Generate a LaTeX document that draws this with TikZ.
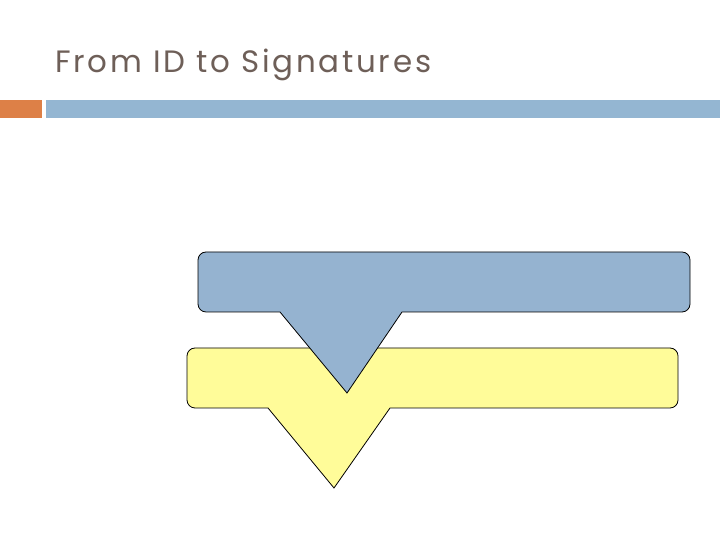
\documentclass[tikz,border=0pt]{standalone}
\usepackage{fontspec}
\setmainfont{Poppins}
\newfontfamily\titlefont[LetterSpace=9]{Poppins}
\definecolor{titlecol}{HTML}{6E5F58}
\definecolor{barorange}{HTML}{DD8047}
\definecolor{barblue}{HTML}{94B6D2}
\definecolor{calloutblue}{HTML}{95B3D0}
\definecolor{calloutyellow}{HTML}{FFFC99}
\tikzset{callout/.style={draw=black,line width=0.8pt,line join=miter}}
\begin{document}
\begin{tikzpicture}[x=1bp,y=1bp]
\useasboundingbox (0,0) rectangle (720,540);
\fill[white] (0,0) rectangle (720,540);
% title
\node[anchor=base west,inner sep=0pt,text=titlecol,font=\titlefont\fontsize{31}{36}\selectfont] (title) at (55,467) {From ID to Signatures};
% bars
\fill[barorange] (0,422) rectangle (42,440);
\fill[barblue] (46,422) rectangle (720,440);
% yellow callout
\draw[callout,fill=calloutyellow] (195,192) -- (670,192) arc[start angle=90,end angle=0,radius=8] -- (678,140) arc[start angle=0,end angle=-90,radius=8] -- (390,132) -- (334,52) -- (268,132) -- (195,132) arc[start angle=270,end angle=180,radius=8] -- (187,184) arc[start angle=180,end angle=90,radius=8] -- cycle;
% blue callout
\draw[callout,fill=calloutblue] (206,288) -- (682,288) arc[start angle=90,end angle=0,radius=8] -- (690,236) arc[start angle=0,end angle=-90,radius=8] -- (402,228) -- (347,147) -- (280,228) -- (206,228) arc[start angle=270,end angle=180,radius=8] -- (198,280) arc[start angle=180,end angle=90,radius=8] -- cycle;
\end{tikzpicture}
\end{document}
